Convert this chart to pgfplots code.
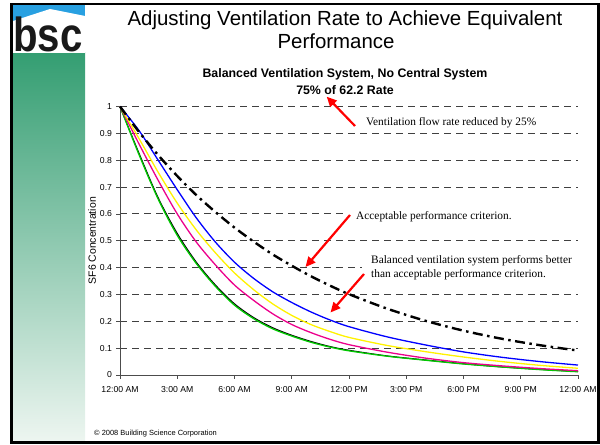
\documentclass[border=0pt]{standalone}
\usepackage{pgfplots}
\pgfplotsset{compat=1.18}
\usetikzlibrary{arrows.meta}
\usepackage{fontspec}
\setmainfont{Liberation Sans}
\newfontfamily\timesfont{Liberation Serif}
\definecolor{bscgreen}{RGB}{52,158,114}
\definecolor{bscpale}{RGB}{238,246,241}
\definecolor{bscblue}{RGB}{40,160,225}
\definecolor{cgreen}{RGB}{0,200,0}
\newcommand{\fs}[1]{\fontsize{#1}{#1}\selectfont}
\begin{document}
\begin{tikzpicture}[x=1bp,y=1bp]
\path[use as bounding box] (0,0) rectangle (600,445);
% left decorative bar
\shade[top color=bscgreen, bottom color=bscpale] (13,2) rectangle (85,392);
\fill[bscblue] (13,440) rectangle (85,421);
\fill[white] (13,424) -- (50,436) -- (85,429) -- (85,392) -- (13,392) -- cycle;
\node[anchor=base, inner sep=0, xscale=0.84, font=\fs{48}\bfseries, text=black!90] at (48,393) {bsc};
% frame
\draw[line width=2.6bp] (11.5,441) rectangle (598.5,2.5);
% titles
\node[anchor=base, inner sep=0, font=\fs{20.5}] at (345,419) {Adjusting Ventilation Rate to Achieve Equivalent};
\node[anchor=base, inner sep=0, font=\fs{20.5}] at (336,396.5) {Performance};
\node[anchor=base, inner sep=0, font=\fs{12.4}\bfseries] at (345,367) {Balanced Ventilation System, No Central System};
\node[anchor=base, inner sep=0, font=\fs{12.4}\bfseries] at (345,350) {75\% of 62.2 Rate};
\begin{axis}[
  at={(120bp,70bp)}, anchor=south west,
  width=458bp, height=268.5bp, scale only axis,
  xmin=0, xmax=24, ymin=0, ymax=1,
  clip=false,
  axis x line*=bottom, axis y line*=left,
  axis line style={-, black!70, line width=0.8bp},
  xtick={0,3,6,9,12,15,18,21,24},
  xticklabels={12:00 AM,3:00 AM,6:00 AM,9:00 AM,12:00 PM,3:00 PM,6:00 PM,9:00 PM,12:00 AM},
  ytick={0,0.1,0.2,0.3,0.4,0.5,0.6,0.7,0.8,0.9,1},
  yticklabels={0,0.1,0.2,0.3,0.4,0.5,0.6,0.7,0.8,0.9,1},
  tick align=outside, major tick length=4bp,
  tick style={black!70, line width=0.6bp},
  ticklabel style={font=\fs{8.7}},
  xticklabel style={yshift=-3.5bp},
  yticklabel style={xshift=-0.5bp},
  ymajorgrids,
  major grid style={black!75, line width=0.9bp, dash pattern=on 7bp off 5bp},
  ylabel={SF6 Concentration},
  ylabel style={font=\fs{10.5}, at={(axis description cs:-0.061,0.5)}, anchor=center},
]
% black reference (behind green)
\addplot[black, line width=1.1bp, smooth] coordinates {
(0,1) (1,0.825) (2,0.66) (3,0.527) (4,0.42) (5,0.335) (6,0.265) (7,0.214) (8,0.176) (9,0.148) (10,0.125) (11,0.106) (12,0.092) (14,0.071) (16,0.056) (18,0.042) (20,0.03) (22,0.021) (24,0.013)};
\addplot[cgreen, line width=1.3bp, smooth] coordinates {
(0,1) (1,0.82) (2,0.655) (3,0.52) (4,0.415) (5,0.33) (6,0.26) (7,0.21) (8,0.172) (9,0.145) (10,0.122) (11,0.104) (12,0.09) (14,0.07) (16,0.055) (18,0.041) (20,0.03) (22,0.02) (24,0.012)};
\addplot[magenta, line width=1.3bp, smooth] coordinates {
(0,1) (1,0.86) (2,0.725) (3,0.6) (4,0.495) (5,0.41) (6,0.335) (7,0.278) (8,0.228) (9,0.188) (10,0.158) (11,0.133) (12,0.113) (14,0.085) (16,0.063) (18,0.046) (20,0.034) (22,0.024) (24,0.016)};
\addplot[yellow, line width=1.3bp, smooth] coordinates {
(0,1) (1,0.88) (2,0.755) (3,0.64) (4,0.54) (5,0.455) (6,0.38) (7,0.318) (8,0.265) (9,0.222) (10,0.188) (11,0.162) (12,0.14) (14,0.11) (16,0.087) (18,0.067) (20,0.05) (22,0.036) (24,0.025)};
\addplot[blue, line width=1.3bp, smooth] coordinates {
(0,1) (1,0.91) (2,0.80) (3,0.69) (4,0.585) (5,0.495) (6,0.42) (7,0.36) (8,0.31) (9,0.27) (10,0.235) (11,0.205) (12,0.18) (14,0.142) (16,0.112) (18,0.086) (20,0.066) (22,0.05) (24,0.037)};
\addplot[black, line width=2.4bp, smooth, dash pattern=on 10bp off 4.5bp on 2.5bp off 4.5bp] coordinates {
(0,1) (1,0.905) (2,0.819) (3,0.741) (4,0.670) (5,0.607) (6,0.549) (7,0.497) (8,0.449) (9,0.407) (10,0.368) (11,0.333) (12,0.301) (14,0.247) (16,0.202) (18,0.165) (20,0.135) (22,0.111) (24,0.091)};
\end{axis}
% annotation text boxes (white, hiding the grid behind them)
\fill[white] (345,222) rectangle (578,238);
\fill[white] (362,164) rectangle (578,192);
\node[anchor=base west, inner sep=0, font=\timesfont\fs{11.4}] at (366,319.5) {Ventilation flow rate reduced by 25\%};
\node[anchor=base west, inner sep=0, font=\timesfont\fs{11.4}] at (356,225) {Acceptable performance criterion.};
\node[anchor=base west, inner sep=0, font=\timesfont\fs{11.4}] at (371,181) {Balanced ventilation system performs better};
\node[anchor=base west, inner sep=0, font=\timesfont\fs{11.4}] at (371,167) {than acceptable performance criterion.};
\draw[red, line width=2.2bp, -{Triangle[length=10bp,width=9bp]}] (355,319) -- (326.7,348.3);
\draw[red, line width=2.2bp, -{Triangle[length=10bp,width=9bp]}] (350,230) -- (305.5,178);
\draw[red, line width=2.2bp, -{Triangle[length=10bp,width=9bp]}] (364,171) -- (330.5,132.5);
\node[anchor=base west, inner sep=0, font=\fs{7.5}] at (94,9) {\textcopyright\ 2008 Building Science Corporation};
\end{tikzpicture}
\end{document}
